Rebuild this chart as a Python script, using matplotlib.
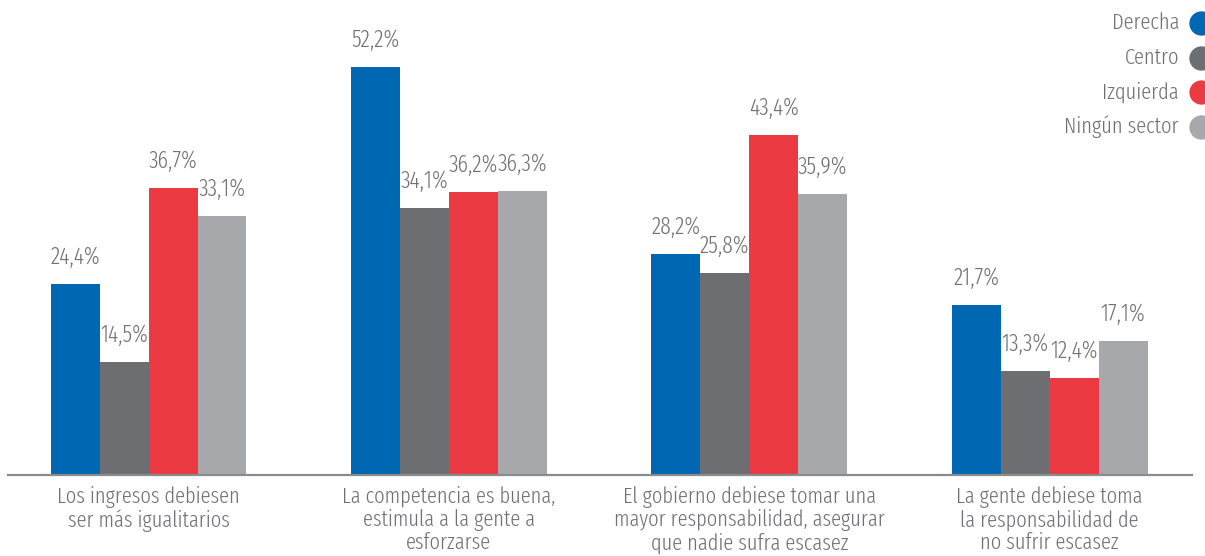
import matplotlib.pyplot as plt
import numpy as np

categories = [
    "Los ingresos debiesen\nser más igualitarios",
    "La competencia es buena,\nestimula a la gente a\nesforzarse",
    "El gobierno debiese tomar una\nmayor responsabilidad, asegurar\nque nadie sufra escasez",
    "La gente debiese toma\nla responsabilidad de\nno sufrir escasez",
]
series_names = ["Derecha", "Centro", "Izquierda", "Ningún sector"]
derecha = [24.4, 52.2, 28.2, 21.7]
centro = [14.5, 34.1, 25.8, 13.3]
izquierda = [36.7, 36.2, 43.4, 12.4]
ningun = [33.1, 36.3, 35.9, 17.1]

colors = ["#0067b2", "#6d6e72", "#ec3a42", "#a7a8ac"]
text_color = "#707174"
font = ["Fira Sans Extra Condensed", "DejaVu Sans"]
light = 300

W, H = 1205, 556
fig = plt.figure(figsize=(W / 100, H / 100), dpi=100)
ax = fig.add_axes([8 / W, (H - 475) / H, (1192 - 8) / W, 475 / H])

x = np.arange(len(categories))
bar_w = 0.163
values = [derecha, centro, izquierda, ningun]
for i, (vals, col) in enumerate(zip(values, colors)):
    pos = x + (i - 1.5) * bar_w
    ax.bar(pos, vals, width=bar_w, color=col, linewidth=0)
    for px, v in zip(pos, vals):
        ax.annotate(f"{v:.1f}%".replace(".", ","), (px, v), xytext=(0, 11),
                    textcoords="offset points", ha="center", va="bottom",
                    fontsize=17, weight=light, color=text_color, family=font)

ax.set_xlim(-0.468, 3.474)
ax.set_ylim(0, 60.7)
for s in ["top", "right", "left"]:
    ax.spines[s].set_visible(False)
ax.spines["bottom"].set_color("#8a8b8d")
ax.spines["bottom"].set_linewidth(1.6)
ax.set_yticks([])
ax.set_xticks(x)
ax.set_xticklabels(categories, fontsize=16, weight=light, color=text_color,
                   family=font, linespacing=1.08, va="top")
ax.tick_params(axis="x", length=0, pad=8)

# legend: right-aligned names with round swatches cut by the right edge
for i, (name, col) in enumerate(zip(series_names, colors)):
    yy = 1 - (23 + i * 34.7) / H
    fig.text(1179 / W, yy, name, ha="right", va="center", fontsize=16,
             weight=light, color=text_color, family=font)
    fig.add_artist(plt.Line2D([1201 / W], [yy], marker="o", markersize=16.5,
                              color=col, linestyle="none",
                              transform=fig.transFigure))

fig.savefig("out.png", dpi=100)
